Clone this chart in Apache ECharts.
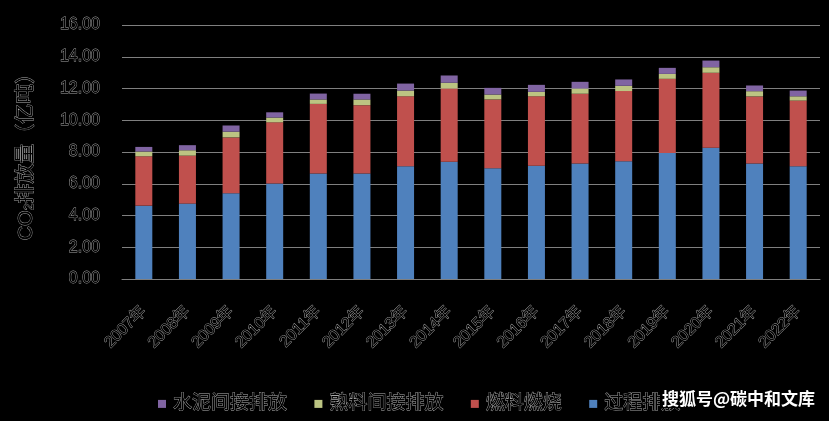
<!DOCTYPE html>
<html>
<head>
<meta charset="utf-8">
<script src="https://cdn.jsdelivr.net/npm/echarts@6/dist/echarts.min.js"></script>
<style>
html,body{margin:0;padding:0;background:#000;}
#c{width:829px;height:421px;}
</style>
</head>
<body>
<div id="c"></div>
<script>
const categories = ['2007年','2008年','2009年','2010年','2011年','2012年','2013年','2014年','2015年','2016年','2017年','2018年','2019年','2020年','2021年','2022年'];
const processEmission = [4.62,4.75,5.40,6.02,6.65,6.65,7.11,7.38,6.97,7.14,7.28,7.42,7.94,8.26,7.28,7.10];
const fuelCombustion = [3.11,3.02,3.52,3.85,4.38,4.30,4.40,4.62,4.34,4.37,4.39,4.42,4.67,4.73,4.22,4.14];
const clinkerIndirect = [0.30,0.34,0.36,0.30,0.28,0.36,0.36,0.36,0.31,0.28,0.33,0.33,0.31,0.35,0.33,0.27];
const cementIndirect = [0.29,0.32,0.39,0.33,0.37,0.36,0.44,0.46,0.42,0.44,0.42,0.40,0.38,0.42,0.36,0.36];
const yTicks = [0,2,4,6,8,10,12,14,16];

const outline = {color:'#000', textBorderColor:'#a8a8a8', textBorderWidth:0.8, fontFamily:'Liberation Sans, Noto Sans CJK SC, sans-serif'};

const chart = echarts.init(document.getElementById('c'));
chart.setOption({
  backgroundColor:'#000',
  animation:false,
  grid:{left:122, right:9, top:25, bottom:142},
  legend:{
    data:['水泥间接排放','熟料间接排放','燃料燃烧','过程排放'],
    left:153, top:389,
    itemWidth:8, itemHeight:8, itemGap:27, icon:'rect',
    textStyle:Object.assign({fontSize:19, padding:[0,0,0,2]}, outline)
  },
  xAxis:{
    type:'category', data:categories,
    axisLine:{lineStyle:{color:'#7f7f7f'}},
    axisTick:{show:false},
    axisLabel:Object.assign({rotate:45, fontSize:16, margin:30}, outline)
  },
  yAxis:{
    type:'value', min:yTicks[0], max:yTicks[yTicks.length-1], interval:2,
    name:'CO{sub|2}排放量（亿吨）',
    nameLocation:'middle', nameGap:86, nameRotate:90,
    nameTextStyle:Object.assign({fontSize:20, rich:{sub:Object.assign({fontSize:12, verticalAlign:'bottom', padding:[8,0,0,0]}, outline)}}, outline),
    axisLine:{show:false}, axisTick:{show:false},
    splitLine:{lineStyle:{color:'#7f7f7f', width:1}},
    axisLabel:Object.assign({fontSize:16, margin:22, formatter:v=>v.toFixed(2)}, outline)
  },
  series:[
    {name:'过程排放', type:'bar', stack:'t', data:processEmission, barWidth:17, itemStyle:{color:'#4f81bd'}},
    {name:'燃料燃烧', type:'bar', stack:'t', data:fuelCombustion, barWidth:17, itemStyle:{color:'#c0504d'}},
    {name:'熟料间接排放', type:'bar', stack:'t', data:clinkerIndirect, barWidth:17, itemStyle:{color:'#bcc482'}},
    {name:'水泥间接排放', type:'bar', stack:'t', data:cementIndirect, barWidth:17, itemStyle:{color:'#8064a2'}}
  ],
  graphic:[{
    type:'text', left:660, top:389, z:100,
    style:{text:'搜狐号@碳中和文库', fill:'#fff', fontSize:17, fontWeight:'bold', fontFamily:'Noto Sans CJK SC, sans-serif', backgroundColor:'#000', padding:[1,2,1,2]}
  }]
});
</script>
</body>
</html>
